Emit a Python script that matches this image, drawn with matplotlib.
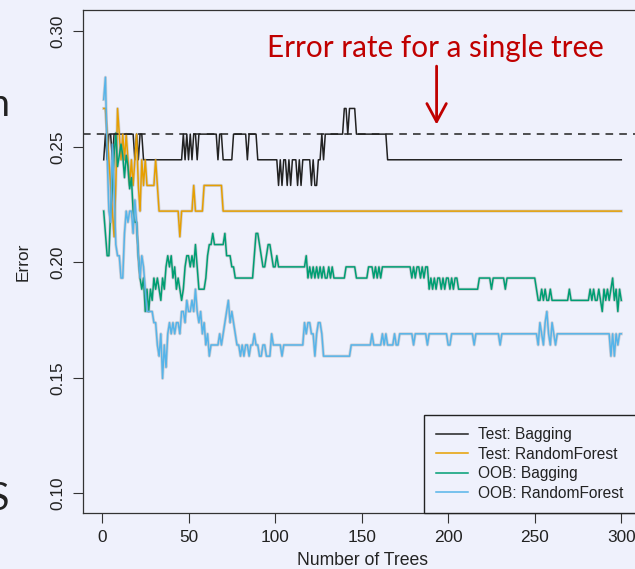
import matplotlib

matplotlib.use("Agg")
import matplotlib.pyplot as plt
import numpy as np

N_TEST = 90    # held-out observations
N_TRAIN = 207  # training observations, denominator for the OOB error
SINGLE_TREE_ERRORS = 23  # test misclassifications of one unpruned tree

# misclassified test observations after 1..300 trees
test_bagging = [
    22, 23, 22, 23, 23, 22, 23, 23, 23, 23, 23, 23, 23, 23, 23, 23, 23, 23, 22, 23, 22, 23, 23, 22, 22,
    22, 22, 22, 22, 22, 22, 22, 22, 22, 22, 22, 22, 22, 22, 22, 22, 22, 22, 22, 22, 22, 23, 22, 23, 22,
    23, 22, 23, 23, 22, 23, 23, 23, 23, 23, 23, 23, 23, 23, 23, 23, 22, 23, 23, 22, 22, 22, 22, 22, 22,
    23, 23, 23, 23, 23, 23, 23, 23, 22, 23, 23, 23, 23, 23, 22, 22, 22, 22, 22, 22, 22, 22, 22, 22, 22,
    22, 21, 22, 21, 22, 22, 21, 22, 21, 22, 22, 22, 21, 22, 21, 22, 22, 22, 22, 22, 21, 22, 21, 21, 22,
    22, 23, 22, 23, 23, 23, 23, 23, 23, 23, 23, 23, 23, 23, 24, 24, 23, 24, 24, 24, 24, 23, 23, 23, 23,
    23, 23, 23, 23, 23, 23, 23, 23, 23, 23, 23, 23, 23, 23, 22, 22, 22, 22, 22, 22, 22, 22, 22, 22, 22,
    22, 22, 22, 22, 22, 22, 22, 22, 22, 22, 22, 22, 22, 22, 22, 22, 22, 22, 22, 22, 22, 22, 22, 22, 22,
    22, 22, 22, 22, 22, 22, 22, 22, 22, 22, 22, 22, 22, 22, 22, 22, 22, 22, 22, 22, 22, 22, 22, 22, 22,
    22, 22, 22, 22, 22, 22, 22, 22, 22, 22, 22, 22, 22, 22, 22, 22, 22, 22, 22, 22, 22, 22, 22, 22, 22,
    22, 22, 22, 22, 22, 22, 22, 22, 22, 22, 22, 22, 22, 22, 22, 22, 22, 22, 22, 22, 22, 22, 22, 22, 22,
    22, 22, 22, 22, 22, 22, 22, 22, 22, 22, 22, 22, 22, 22, 22, 22, 22, 22, 22, 22, 22, 22, 22, 22, 22,
]
test_rf = [
    24, 24, 23, 22, 21, 20, 19, 21, 24, 23, 22, 23, 22, 23, 22, 21, 22, 21, 22, 23, 21, 20, 22, 21, 22,
    21, 21, 21, 21, 21, 22, 21, 20, 20, 20, 20, 20, 20, 20, 20, 20, 20, 20, 20, 19, 20, 20, 20, 20, 20,
    20, 20, 21, 20, 20, 20, 20, 20, 21, 21, 21, 21, 21, 21, 21, 21, 21, 21, 21, 20, 20, 20, 20, 20, 20,
    20, 20, 20, 20, 20, 20, 20, 20, 20, 20, 20, 20, 20, 20, 20, 20, 20, 20, 20, 20, 20, 20, 20, 20, 20,
    20, 20, 20, 20, 20, 20, 20, 20, 20, 20, 20, 20, 20, 20, 20, 20, 20, 20, 20, 20, 20, 20, 20, 20, 20,
    20, 20, 20, 20, 20, 20, 20, 20, 20, 20, 20, 20, 20, 20, 20, 20, 20, 20, 20, 20, 20, 20, 20, 20, 20,
    20, 20, 20, 20, 20, 20, 20, 20, 20, 20, 20, 20, 20, 20, 20, 20, 20, 20, 20, 20, 20, 20, 20, 20, 20,
    20, 20, 20, 20, 20, 20, 20, 20, 20, 20, 20, 20, 20, 20, 20, 20, 20, 20, 20, 20, 20, 20, 20, 20, 20,
    20, 20, 20, 20, 20, 20, 20, 20, 20, 20, 20, 20, 20, 20, 20, 20, 20, 20, 20, 20, 20, 20, 20, 20, 20,
    20, 20, 20, 20, 20, 20, 20, 20, 20, 20, 20, 20, 20, 20, 20, 20, 20, 20, 20, 20, 20, 20, 20, 20, 20,
    20, 20, 20, 20, 20, 20, 20, 20, 20, 20, 20, 20, 20, 20, 20, 20, 20, 20, 20, 20, 20, 20, 20, 20, 20,
    20, 20, 20, 20, 20, 20, 20, 20, 20, 20, 20, 20, 20, 20, 20, 20, 20, 20, 20, 20, 20, 20, 20, 20, 20,
]

# misclassified out-of-bag observations after 1..300 trees
oob_bagging = [
    46, 44, 42, 42, 46, 48, 51, 53, 50, 51, 52, 51, 49, 51, 50, 48, 49, 46, 45, 45, 42, 40, 39, 40, 37,
    39, 37, 39, 38, 40, 39, 40, 39, 38, 40, 39, 41, 42, 41, 42, 40, 41, 39, 40, 39, 38, 39, 41, 42, 42,
    41, 42, 41, 43, 41, 39, 39, 39, 39, 40, 42, 43, 43, 44, 43, 43, 43, 43, 43, 43, 44, 42, 42, 42, 41,
    41, 40, 40, 40, 40, 40, 40, 40, 40, 40, 40, 40, 42, 44, 44, 43, 42, 41, 41, 42, 43, 43, 42, 41, 41,
    42, 41, 41, 41, 41, 41, 41, 41, 41, 41, 41, 41, 41, 41, 41, 41, 41, 42, 40, 41, 40, 41, 40, 41, 40,
    41, 40, 41, 40, 40, 41, 40, 41, 40, 40, 40, 40, 40, 40, 40, 41, 41, 41, 41, 41, 41, 40, 40, 40, 40,
    40, 40, 40, 41, 41, 41, 40, 41, 40, 41, 40, 41, 41, 41, 41, 41, 41, 41, 41, 41, 41, 41, 41, 41, 41,
    41, 41, 41, 40, 41, 40, 41, 41, 40, 41, 40, 41, 41, 39, 40, 39, 40, 39, 40, 40, 39, 40, 39, 40, 40,
    39, 40, 39, 40, 40, 39, 39, 39, 39, 39, 39, 39, 39, 39, 39, 39, 39, 40, 40, 40, 40, 40, 40, 40, 39,
    40, 40, 40, 40, 40, 40, 40, 39, 40, 40, 40, 40, 40, 40, 40, 40, 40, 40, 40, 40, 40, 40, 40, 40, 40,
    39, 38, 38, 39, 38, 39, 38, 38, 39, 38, 38, 38, 38, 38, 38, 38, 38, 38, 38, 39, 38, 38, 38, 38, 38,
    38, 38, 38, 38, 38, 38, 39, 38, 39, 38, 38, 39, 38, 37, 39, 38, 39, 38, 39, 40, 38, 39, 37, 39, 38,
]
oob_rf = [
    56, 58, 51, 46, 45, 52, 48, 43, 42, 42, 40, 40, 44, 46, 45, 46, 46, 44, 47, 45, 42, 40, 42, 41, 39,
    37, 37, 37, 37, 36, 36, 34, 33, 35, 31, 34, 32, 35, 36, 35, 36, 35, 36, 36, 35, 37, 37, 36, 38, 37,
    37, 38, 37, 39, 37, 36, 37, 35, 36, 34, 35, 33, 34, 34, 34, 34, 34, 35, 34, 35, 36, 37, 38, 36, 37,
    36, 35, 34, 34, 33, 34, 33, 34, 34, 33, 34, 34, 35, 34, 34, 33, 33, 34, 34, 33, 33, 33, 35, 34, 34,
    34, 34, 34, 33, 34, 34, 34, 34, 34, 34, 34, 34, 34, 34, 34, 34, 36, 35, 36, 36, 35, 35, 33, 35, 36,
    36, 35, 33, 33, 33, 33, 33, 33, 33, 33, 33, 33, 33, 33, 33, 33, 33, 33, 34, 34, 34, 34, 34, 34, 34,
    34, 34, 34, 34, 34, 35, 34, 34, 34, 34, 34, 35, 34, 35, 34, 34, 34, 34, 35, 34, 34, 35, 35, 35, 35,
    35, 35, 35, 35, 34, 35, 35, 35, 35, 35, 35, 35, 34, 35, 35, 35, 35, 35, 35, 35, 35, 35, 35, 35, 34,
    34, 35, 35, 35, 35, 35, 35, 35, 35, 35, 35, 35, 35, 35, 34, 35, 35, 35, 35, 35, 35, 35, 35, 35, 35,
    35, 35, 35, 35, 34, 35, 35, 35, 35, 35, 35, 35, 35, 35, 35, 35, 35, 35, 35, 35, 35, 35, 35, 35, 35,
    35, 34, 36, 35, 34, 36, 37, 35, 34, 36, 35, 34, 35, 35, 35, 35, 35, 35, 35, 35, 35, 35, 35, 35, 35,
    35, 35, 35, 35, 35, 35, 35, 35, 35, 35, 35, 35, 35, 35, 35, 35, 35, 35, 33, 35, 33, 35, 34, 35, 35,
]

BG = "#eff1fc"
INK = "#222222"
ACCENT = "#c00000"
SLIDE_FONT = ["Lato", "DejaVu Sans"]


def main() -> None:
    plt.rcParams["font.family"] = ["Liberation Sans", "DejaVu Sans"]
    fig = plt.figure(figsize=(6.35, 5.69), dpi=100, facecolor=BG)
    # plot region runs slightly past the right edge of the canvas
    ax = fig.add_axes([83 / 635, 1 - 513 / 569, 559 / 635, 503 / 569])
    ax.set_facecolor(BG)

    trees = np.arange(1, len(test_bagging) + 1)
    curves = [
        (test_bagging, N_TEST, INK, "Test: Bagging"),
        (test_rf, N_TEST, "#E69F00", "Test: RandomForest"),
        (oob_bagging, N_TRAIN, "#009E73", "OOB: Bagging"),
        (oob_rf, N_TRAIN, "#56B4E9", "OOB: RandomForest"),
    ]
    handles = []
    for counts, n, color, label in curves:
        err = np.asarray(counts) / n
        if color != INK:
            ax.plot(trees, err, color="#8c8c8c", lw=2.2, alpha=0.33)
        (line,) = ax.plot(trees, err, color=color, lw=1.1, label=label)
        handles.append(line)

    ax.axhline(SINGLE_TREE_ERRORS / N_TEST, color=INK, lw=1.1, ls=(0, (5, 4)))

    ax.text(95.6, 0.2888, "Error rate for a single tree", color=ACCENT, fontsize=21.3,
            fontweight="normal", family=SLIDE_FONT, ha="left", va="baseline")
    ax.annotate("", xy=(193.3, 0.2597), xytext=(193.3, 0.2850),
                arrowprops=dict(arrowstyle="->,head_length=1.3,head_width=0.7",
                                color=ACCENT, lw=2.0, mutation_scale=10,
                                shrinkA=0, shrinkB=0))

    ax.set_xlim(-10.96, 311.96)
    ax.set_ylim(0.0915, 0.3093)
    ax.set_xticks([0, 50, 100, 150, 200, 250, 300])
    ax.set_yticks([0.10, 0.15, 0.20, 0.25, 0.30])
    ax.set_yticklabels(["0.10", "0.15", "0.20", "0.25", "0.30"])
    ax.tick_params(direction="out", length=7, width=0.8, color="#333333",
                   labelsize=12.4, labelcolor=INK)
    ax.tick_params(axis="x", pad=5)
    ax.tick_params(axis="y", pad=6, labelrotation=90)
    for lab in ax.get_yticklabels():
        lab.set_va("center")
    for spine in ax.spines.values():
        spine.set_color("#333333")
        spine.set_linewidth(0.9)

    ax.set_xlabel("Number of Trees", fontsize=12.7, color=INK, labelpad=5)
    ax.set_ylabel("Error", fontsize=12.4, color=INK, labelpad=14)

    # legend box spans from x = 424 px to the right border of the plot region
    leg = ax.legend(handles=handles, loc="lower left",
                    bbox_to_anchor=((424 - 83) / 559, 0, (642 - 424) / 559, 0.2),
                    mode="expand", borderaxespad=0, fancybox=False, edgecolor=INK,
                    facecolor=BG, framealpha=1, fontsize=11.2, handlelength=2.05,
                    handletextpad=0.64, borderpad=0.8, labelspacing=0.28)
    leg.get_frame().set_linewidth(1.0)
    for txt in leg.get_texts():
        txt.set_color(INK)

    # letters of neighbouring slide text cut by the left border
    fig.text(9 / 635, 1 - 116 / 569, "n", fontsize=27, color=INK,
             family=SLIDE_FONT, ha="right", va="baseline")
    fig.text(9 / 635, 1 - 510 / 569, "S", fontsize=27, color=INK,
             family=SLIDE_FONT, ha="right", va="baseline")

    fig.savefig("out.png", dpi=100, facecolor=BG)
    plt.close(fig)


if __name__ == "__main__":
    main()
